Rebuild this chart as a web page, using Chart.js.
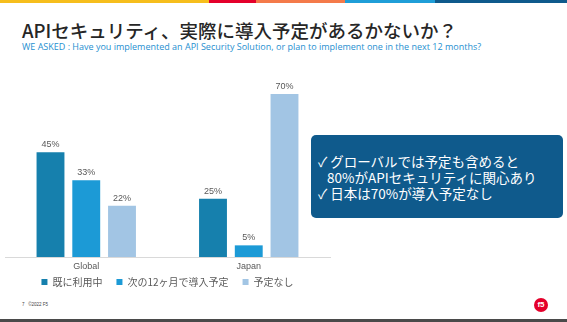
<!DOCTYPE html>
<html>
<head>
<meta charset="utf-8">
<script src="https://cdn.jsdelivr.net/npm/chart.js@4.4.0/dist/chart.umd.min.js"></script>
<style>
  body { margin: 0; width: 567px; height: 322px; background: #fff; overflow: hidden; position: relative; font-family: "Noto Sans CJK JP", "Noto Sans", sans-serif; }
  .bar { position: absolute; top: 0; height: 3px; }
  #title { position: absolute; left: 22px; top: 17px; font-size: 18.5px; font-weight: 500; color: #262626; white-space: nowrap; }
  #sub { position: absolute; left: 22px; top: 40px; font-family: "Open Sans", sans-serif; font-size: 9px; color: #1f8fd0; white-space: nowrap; }
  #chartWrap { position: absolute; left: 0; top: 70px; width: 340px; height: 227px; }
  #box { position: absolute; left: 311px; top: 135px; width: 252px; height: 83px; background: #0f5a8c; border-radius: 5px; color: #fff; font-size: 13.5px; line-height: 16px; box-sizing: border-box; padding: 18px 0 0 7px; white-space: nowrap; }
  #foot { position: absolute; left: 22px; top: 302px; font-family: "Liberation Sans", sans-serif; font-size: 4.5px; color: #444; }
  #logo { position: absolute; left: 534px; top: 298px; width: 14px; height: 14px; border-radius: 50%; background: #e4002b; color: #fff; font: bold 8px "Liberation Sans", sans-serif; text-align: center; line-height: 14px; }
  #bottom { position: absolute; left: 0; top: 319px; width: 567px; height: 3px; background: #4a4a4a; }
</style>
</head>
<body>
<div class="bar" style="left:0;width:209px;background:#f6be1c"></div>
<div class="bar" style="left:209px;width:47px;background:#e4002b"></div>
<div class="bar" style="left:256px;width:89px;background:#f47a4a"></div>
<div class="bar" style="left:345px;width:90px;background:#1f9ed8"></div>
<div class="bar" style="left:435px;width:132px;background:#0f5a8c"></div>

<div id="title">APIセキュリティ、実際に導入予定があるかないか？</div>
<div id="sub">WE ASKED : Have you implemented an API Security Solution, or plan to implement one in the next 12 months?</div>

<div id="chartWrap"><canvas id="grafico"></canvas></div>

<div id="box">✓ グローバルでは予定も含めると<br>&nbsp;&nbsp;&nbsp;80%がAPIセキュリティに関心あり<br>✓ 日本は70%が導入予定なし</div>

<div id="foot">7&nbsp;&nbsp;&nbsp;©2022 F5</div>
<div id="logo">f5</div>
<div id="bottom"></div>

<script>
// Datos del gráfico
const categorias = ['Global', 'Japan'];
const series = ['既に利用中', '次の12ヶ月で導入予定', '予定なし'];
const yaUsa = [45, 25];
const proximos12 = [33, 5];
const sinPlan = [22, 70];
const colores = ['#1680ad', '#1c9ad6', '#a2c5e4'];

// Etiquetas de valores y de categorías
const etiquetas = {
    id: 'etiquetas',
    afterDatasetsDraw(chart) {
        const ctx = chart.ctx;
        ctx.save();
        ctx.font = '9px "Liberation Sans", sans-serif';
        ctx.fillStyle = '#595959';
        ctx.textAlign = 'center';
        ctx.textBaseline = 'bottom';
        chart.data.datasets.forEach((ds, i) => {
            chart.getDatasetMeta(i).data.forEach((bar, j) => {
                ctx.fillText(ds.data[j] + '%', bar.x, bar.y - 3);
            });
        });
        // nombres de categoría debajo del eje
        const x = chart.scales.x;
        ctx.textBaseline = 'middle';
        chart.data.labels.forEach((lab, i) => {
            ctx.fillText(lab, x.getPixelForValue(i), chart.chartArea.bottom + 10);
        });
        ctx.restore();
    }
};

const valores = [yaUsa, proximos12, sinPlan];

new Chart(document.getElementById('grafico'), {
    type: 'bar',
    data: {
        labels: categorias,
        datasets: series.map((nombre, i) => ({
            label: nombre,
            data: valores[i],
            backgroundColor: colores[i],
            borderWidth: 0,
            barPercentage: 0.78,
            categoryPercentage: 0.66
        }))
    },
    options: {
        responsive: true,
        maintainAspectRatio: false,
        animation: false,
        layout: { padding: { top: 24, left: 5, right: 10, bottom: 0 } },
        plugins: {
            legend: {
                position: 'bottom',
                labels: {
                    boxWidth: 6,
                    boxHeight: 6,
                    padding: 14,
                    color: '#595959',
                    font: { size: 10, family: '"Noto Sans CJK JP", sans-serif' }
                }
            },
            tooltip: { enabled: false }
        },
        scales: {
            x: {
                grid: { display: false, drawTicks: false },
                border: { color: '#d9d9d9' },
                ticks: { display: false },
                // altura fija del eje para acercar la leyenda
                afterFit: function(scale) {
                    scale.height = 6;
                }
            },
            y: {
                display: false,
                min: 0,
                max: 70
            }
        }
    },
    plugins: [etiquetas]
});
</script>
</body>
</html>
